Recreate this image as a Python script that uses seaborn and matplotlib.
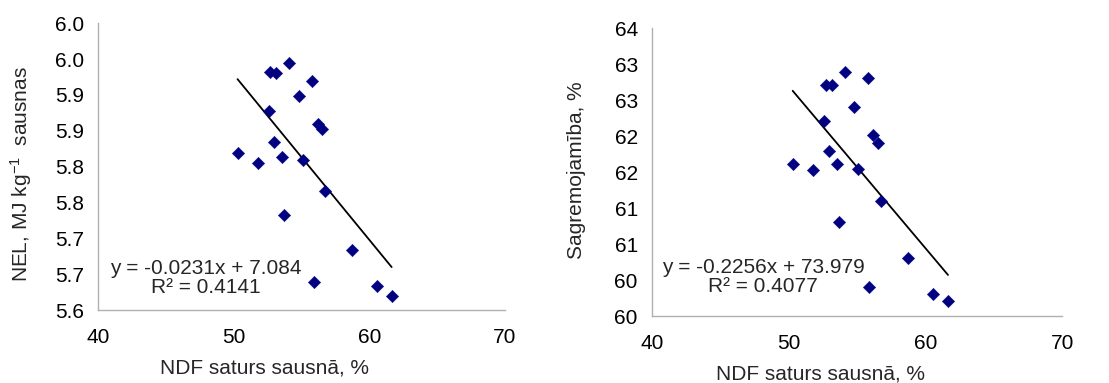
import numpy as np
import pandas as pd
import matplotlib
matplotlib.use("Agg")
import matplotlib.pyplot as plt
import seaborn as sns

# ---- data ----
ndf = [54.1, 52.7, 53.15, 55.8, 54.8, 52.6, 56.2, 56.55, 52.95, 50.3,
       51.8, 53.55, 55.1, 56.75, 53.7, 58.7, 55.9, 60.55, 61.65]
nel = [5.944, 5.932, 5.930, 5.919, 5.898, 5.878, 5.860, 5.853, 5.835, 5.819,
       5.805, 5.813, 5.809, 5.766, 5.732, 5.684, 5.639, 5.634, 5.619]
dig = [62.888, 62.707, 62.707, 62.81, 62.411, 62.207, 62.017, 61.901, 61.799, 61.614,
       61.530, 61.614, 61.544, 61.104, 60.802, 60.311, 59.899, 59.806, 59.704]

nel_slope, nel_intercept, nel_r2 = -0.0231, 7.084, 0.4141
dig_slope, dig_intercept, dig_r2 = -0.2256, 73.979, 0.4077

x_ticks = [40, 50, 60, 70]
nel_ticks = [5.60, 5.65, 5.70, 5.75, 5.80, 5.85, 5.90, 5.95, 6.00]
nel_ticklabels = ["5.6", "5.7", "5.7", "5.8", "5.8", "5.9", "5.9", "6.0", "6.0"]
dig_ticks = [59.5, 60.0, 60.5, 61.0, 61.5, 62.0, 62.5, 63.0, 63.5]
dig_ticklabels = ["60", "60", "61", "61", "62", "62", "63", "63", "64"]

xlabel = "NDF saturs sausnā, %"
nel_ylabel = r"NEL, MJ kg$^{\mathregular{-1}}$  sausnas"
dig_ylabel = "Sagremojamība, %"

df = pd.DataFrame({"ndf": ndf, "nel": nel, "dig": dig})

sns.set_theme(style="white")
plt.rcParams["font.family"] = ["Liberation Sans", "DejaVu Sans"]
plt.rcParams["mathtext.fontset"] = "custom"
plt.rcParams["mathtext.rm"] = "Liberation Sans"
plt.rcParams["mathtext.it"] = "Liberation Sans"

FS = 15
MARKER_COLOR = "#000080"
SPINE = "#b0b0b0"

fig = plt.figure(figsize=(11.09, 3.83), dpi=100)
ax1 = fig.add_axes([97.7 / 1109, 1 - 310 / 383, 407.3 / 1109, 286.7 / 383])
ax2 = fig.add_axes([651.7 / 1109, 1 - 316 / 383, 410.6 / 1109, 287.7 / 383])


def panel(ax, ycol, slope, intercept, r2, yticks, yticklabels, ylabel,
          eq_xy, ylabel_xy, xlabel_xy):
    sns.scatterplot(data=df, x="ndf", y=ycol, ax=ax, marker="D", s=40,
                    color=MARKER_COLOR, edgecolor=MARKER_COLOR, linewidth=0.3,
                    zorder=3)
    xs = np.array([min(ndf), max(ndf)])
    line_df = pd.DataFrame({"x": xs, "y": slope * xs + intercept})
    sns.lineplot(data=line_df, x="x", y="y", ax=ax, color="black", linewidth=1.3,
                 zorder=2)
    ax.set_xlim(x_ticks[0], x_ticks[-1])
    ax.set_ylim(yticks[0], yticks[-1])
    ax.set_xticks(x_ticks)
    ax.set_xticklabels([str(t) for t in x_ticks], fontsize=FS)
    ax.set_yticks(yticks)
    ax.set_yticklabels(yticklabels, fontsize=FS)
    ax.tick_params(axis="both", length=0, colors="black")
    ax.tick_params(axis="x", pad=13)
    ax.tick_params(axis="y", pad=10)
    for side in ["top", "right"]:
        ax.spines[side].set_visible(False)
    for side in ["left", "bottom"]:
        ax.spines[side].set_color(SPINE)
        ax.spines[side].set_linewidth(1.0)
    ax.set_xlabel("")
    ax.set_ylabel("")
    fig.text(ylabel_xy[0] / 1109, 1 - ylabel_xy[1] / 383, ylabel, rotation=90,
             ha="center", va="center", fontsize=FS)
    fig.text(xlabel_xy[0] / 1109, 1 - xlabel_xy[1] / 383, xlabel,
             ha="center", va="center", fontsize=FS)
    eq = f"y = {slope:.4f}x + {intercept:g}\nR² = {r2:.4f}"
    fig.text(eq_xy[0] / 1109, 1 - eq_xy[1] / 383, eq, ha="center", va="center",
             fontsize=FS, multialignment="center", linespacing=1.05)


panel(ax1, "nel", nel_slope, nel_intercept, nel_r2, nel_ticks, nel_ticklabels,
      nel_ylabel, (206, 278), (21, 174), (265, 368))
panel(ax2, "dig", dig_slope, dig_intercept, dig_r2, dig_ticks, dig_ticklabels,
      dig_ylabel, (763, 277), (576, 170), (820, 374))

fig.savefig("out.png", dpi=100)
